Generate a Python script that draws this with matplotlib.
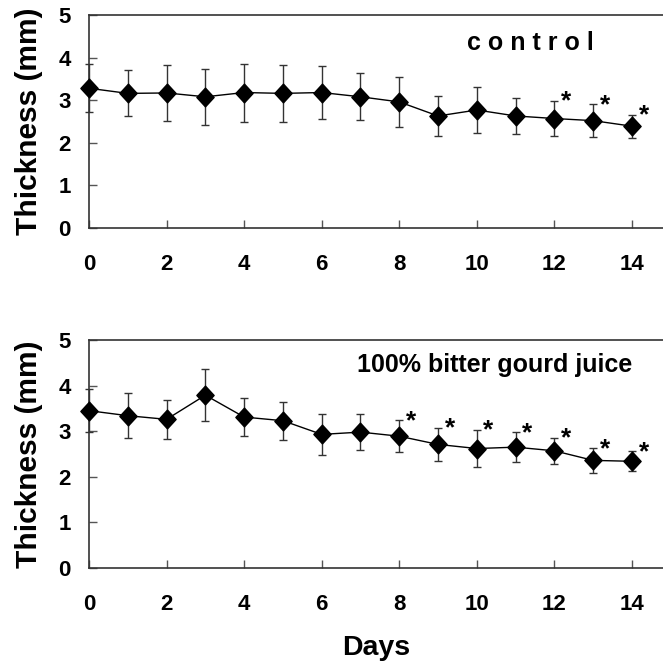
import matplotlib
matplotlib.use("Agg")
import matplotlib.pyplot as plt
import numpy as np
from matplotlib.path import Path

days = list(range(15))

control_mean = [3.28, 3.16, 3.17, 3.08, 3.18, 3.16, 3.18, 3.08, 2.96, 2.63, 2.77, 2.63, 2.57, 2.52, 2.39]
control_err = [0.56, 0.54, 0.65, 0.66, 0.68, 0.66, 0.63, 0.55, 0.58, 0.48, 0.54, 0.43, 0.42, 0.38, 0.27]
control_star_days = [12, 13, 14]

juice_mean = [3.45, 3.34, 3.26, 3.79, 3.31, 3.23, 2.93, 2.98, 2.89, 2.71, 2.62, 2.65, 2.57, 2.36, 2.34]
juice_err = [0.47, 0.50, 0.43, 0.57, 0.41, 0.42, 0.45, 0.39, 0.35, 0.37, 0.41, 0.33, 0.29, 0.27, 0.22]
juice_star_days = [8, 9, 10, 11, 12, 13, 14]

panel_labels = ["c o n t r o l", "100% bitter gourd juice"]
ylabel = "Thickness (mm)"
xlabel = "Days"
xticks = [0, 2, 4, 6, 8, 10, 12, 14]
yticks = [0, 1, 2, 3, 4, 5]

plt.rcParams['font.family'] = ['Liberation Sans', 'DejaVu Sans']
plt.rcParams['font.weight'] = 'bold'

fig = plt.figure(figsize=(6.63, 6.65), dpi=100)
W, H = 663, 665

diamond = Path([(0, 1), (0.92, 0), (0, -1), (-0.92, 0), (0, 1)],
               [Path.MOVETO, Path.LINETO, Path.LINETO, Path.LINETO, Path.CLOSEPOLY])

def make_ax(top_px, bottom_px):
    left = 89 / W
    b = 1 - bottom_px / H
    t = 1 - top_px / H
    return fig.add_axes([left, b, 1.0 - left, t - b])

ax1 = make_ax(15, 228)
ax2 = make_ax(340, 568)

panels = [
    (ax1, control_mean, control_err, control_star_days, panel_labels[0], (11.37, 4.34), 18),
    (ax2, juice_mean, juice_err, juice_star_days, panel_labels[1], (10.45, 4.45), 18),
]

for ax, mean, err, stars, label, lpos, lfs in panels:
    ax.errorbar(days, mean, yerr=err, color='black', ecolor='#333333', lw=1.0, elinewidth=1.0,
                capsize=3, capthick=1.0, fmt='none', clip_on=False, zorder=2)
    ax.plot(days, mean, color='black', lw=1.0, marker=diamond, markersize=13.5,
            markerfacecolor='black', markeredgecolor='black', clip_on=False, zorder=3)
    for d in stars:
        ax.text(d + 0.3, mean[d] + err[d] - 0.02, "*", ha='center', va='center',
                fontsize=19, fontweight='bold')
    ax.text(lpos[0], lpos[1], label, ha='center', va='center', fontsize=lfs, fontweight='bold')
    ax.set_xlim(0, 14.8)
    ax.set_ylim(0, 5)
    ax.set_xticks(xticks)
    ax.set_yticks(yticks)
    ax.tick_params(direction='in', length=6, width=1, color='#555555', labelsize=16)
    ax.tick_params(axis='x', pad=19)
    ax.tick_params(axis='y', pad=13)
    for lbl in ax.get_xticklabels() + ax.get_yticklabels():
        lbl.set_fontweight('bold')
    ax.spines['right'].set_visible(False)
    for s in ['left', 'top', 'bottom']:
        ax.spines[s].set_color('#333333')
        ax.spines[s].set_linewidth(1.2)
    ax.set_ylabel(ylabel, fontsize=21.5, fontweight='bold', labelpad=11)

ax2.set_xlabel(xlabel, fontsize=20.5, fontweight='bold', labelpad=14)

fig.savefig("out.png", dpi=100)
